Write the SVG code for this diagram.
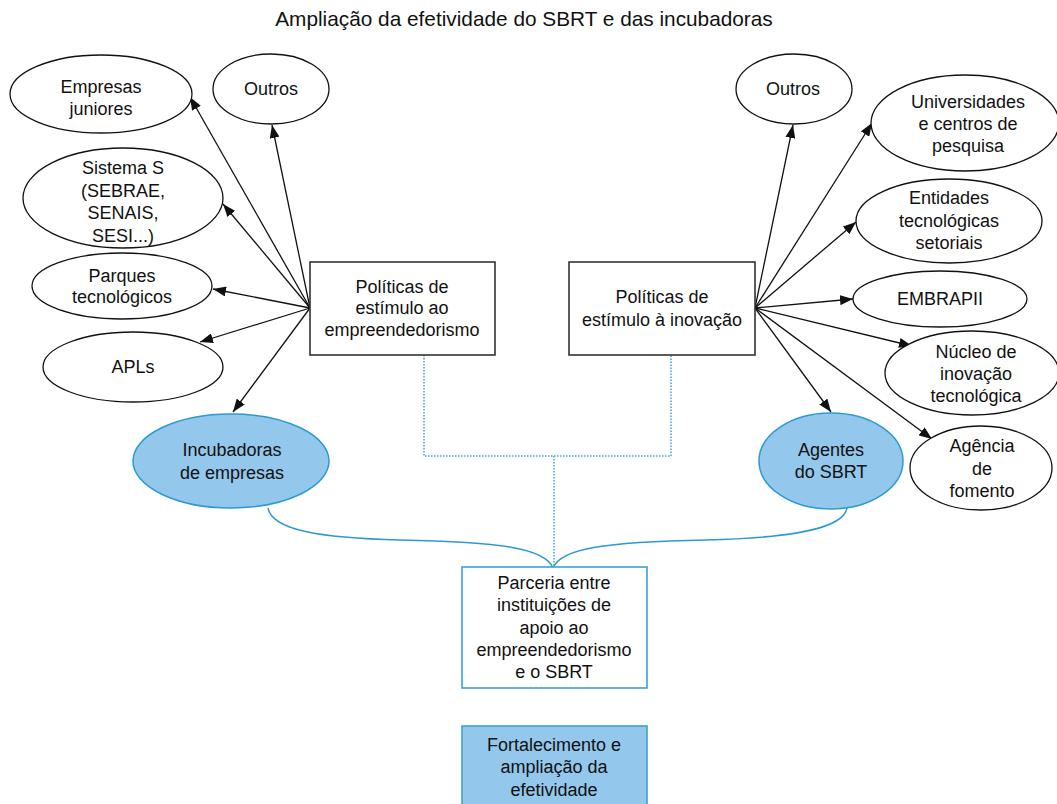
<svg xmlns="http://www.w3.org/2000/svg" width="1057" height="804" viewBox="0 0 1057 804">
<style>
text{font-family:"Liberation Sans",Arial,sans-serif;font-size:18px;fill:#111;text-anchor:middle}
.title{font-size:20.8px}
.el{fill:#fff;stroke:#111;stroke-width:1.3}
.bel{fill:#93c7ec;stroke:#2b9ad4;stroke-width:1.5}
.box{fill:#fff;stroke:#333;stroke-width:1.6}
.bbox{fill:#fff;stroke:#3aa2d6;stroke-width:1.6}
.fbox{fill:#93c7ec;stroke:#3aa2d6;stroke-width:1.6}
.arr{stroke:#111;stroke-width:1.3;fill:none;marker-end:url(#ah)}
.dot{stroke:#3aa6d8;stroke-width:1.5;fill:none;stroke-dasharray:1.5 1.5}
.brace{stroke:#2b9ad4;stroke-width:1.5;fill:none}
</style>
<defs>
<marker id="ah" markerUnits="userSpaceOnUse" markerWidth="13" markerHeight="10" refX="13" refY="5" orient="auto">
<path d="M0,0 L13,5 L0,10 z" fill="#111"/>
</marker>
</defs>
<text class="title" x="524" y="26">Ampliação da efetividade do SBRT e das incubadoras</text>

<g id="connectors">
<line class="arr" x1="310" y1="308" x2="190" y2="97"/>
<line class="arr" x1="310" y1="308" x2="272" y2="125"/>
<line class="arr" x1="310" y1="308" x2="223" y2="204"/>
<line class="arr" x1="310" y1="308" x2="213" y2="289"/>
<line class="arr" x1="310" y1="308" x2="200" y2="342"/>
<line class="arr" x1="310" y1="308" x2="233" y2="412"/>
<line class="arr" x1="755" y1="308" x2="793" y2="125"/>
<line class="arr" x1="755" y1="308" x2="872" y2="123"/>
<line class="arr" x1="755" y1="308" x2="856" y2="222"/>
<line class="arr" x1="755" y1="308" x2="853" y2="299"/>
<line class="arr" x1="755" y1="308" x2="912" y2="346"/>
<line class="arr" x1="755" y1="308" x2="831" y2="412"/>
<line class="arr" x1="755" y1="308" x2="932" y2="439"/>
<path class="dot" d="M424,355 V456 H671 V355 M554,456 V568"/>
<path class="brace" d="M268,508 C272,530 320,538 400,540 C500,542 545,548 553,568"/>
<path class="brace" d="M553,568 C561,548 606,542 706,540 C786,538 843,530 847,508"/>
</g>

<g id="n-empresas-juniores"><ellipse class="el" cx="101" cy="94" rx="91" ry="39"/><text x="101" y="93">Empresas</text><text x="101" y="115">juniores</text></g>
<g id="n-outros-l"><ellipse class="el" cx="271" cy="89" rx="58" ry="35"/><text x="271" y="95">Outros</text></g>
<g id="n-sistema-s"><ellipse class="el" cx="123" cy="198" rx="100" ry="50"/><text x="123" y="174">Sistema S</text><text x="123" y="197">(SEBRAE,</text><text x="123" y="219">SENAIS,</text><text x="123" y="242">SESI...)</text></g>
<g id="n-parques"><ellipse class="el" cx="122" cy="286" rx="90" ry="33"/><text x="122" y="282">Parques</text><text x="122" y="303">tecnológicos</text></g>
<g id="n-apls"><ellipse class="el" cx="133" cy="367" rx="90" ry="35"/><text x="133" y="373">APLs</text></g>
<g id="n-incubadoras"><ellipse class="bel" cx="231" cy="461" rx="98" ry="47"/><text x="232" y="456">Incubadoras</text><text x="232" y="479">de empresas</text></g>
<g id="n-pol-emp"><rect class="box" x="310" y="262" width="185" height="93"/><text x="402" y="293">Políticas de</text><text x="402" y="314">estímulo ao</text><text x="402" y="336">empreendedorismo</text></g>

<g id="n-pol-inov"><rect class="box" x="569" y="262" width="186" height="93"/><text x="662" y="303">Políticas de</text><text x="662" y="326">estímulo à inovação</text></g>
<g id="n-outros-r"><ellipse class="el" cx="794" cy="89" rx="58" ry="35"/><text x="793" y="95">Outros</text></g>
<g id="n-universidades"><ellipse class="el" cx="965" cy="123" rx="94" ry="48"/><text x="968" y="108">Universidades</text><text x="968" y="130">e centros de</text><text x="968" y="152">pesquisa</text></g>
<g id="n-entidades"><ellipse class="el" cx="949" cy="221" rx="93" ry="42"/><text x="949" y="204">Entidades</text><text x="949" y="227">tecnológicas</text><text x="949" y="249">setoriais</text></g>
<g id="n-embrapii"><ellipse class="el" cx="940" cy="299" rx="87" ry="28"/><text x="940" y="305">EMBRAPII</text></g>
<g id="n-nucleo"><ellipse class="el" cx="972" cy="373" rx="87" ry="42"/><text x="976" y="358">Núcleo de</text><text x="976" y="380">inovação</text><text x="976" y="402">tecnológica</text></g>
<g id="n-agentes"><ellipse class="bel" cx="831" cy="461" rx="72" ry="48"/><text x="831" y="456">Agentes</text><text x="831" y="478">do SBRT</text></g>
<g id="n-agencia"><ellipse class="el" cx="981" cy="468" rx="71" ry="42"/><text x="982" y="452">Agência</text><text x="982" y="475">de</text><text x="982" y="497">fomento</text></g>

<g id="n-parceria"><rect class="bbox" x="462" y="567" width="185" height="121"/><text x="554" y="589">Parceria entre</text><text x="554" y="611">instituições de</text><text x="554" y="634">apoio ao</text><text x="554" y="656">empreendedorismo</text><text x="554" y="678">e o SBRT</text></g>
<g id="n-fortalecimento"><rect class="fbox" x="462" y="726" width="185" height="90"/><text x="554" y="751">Fortalecimento e</text><text x="554" y="773">ampliação da</text><text x="554" y="796">efetividade</text></g>
</svg>
